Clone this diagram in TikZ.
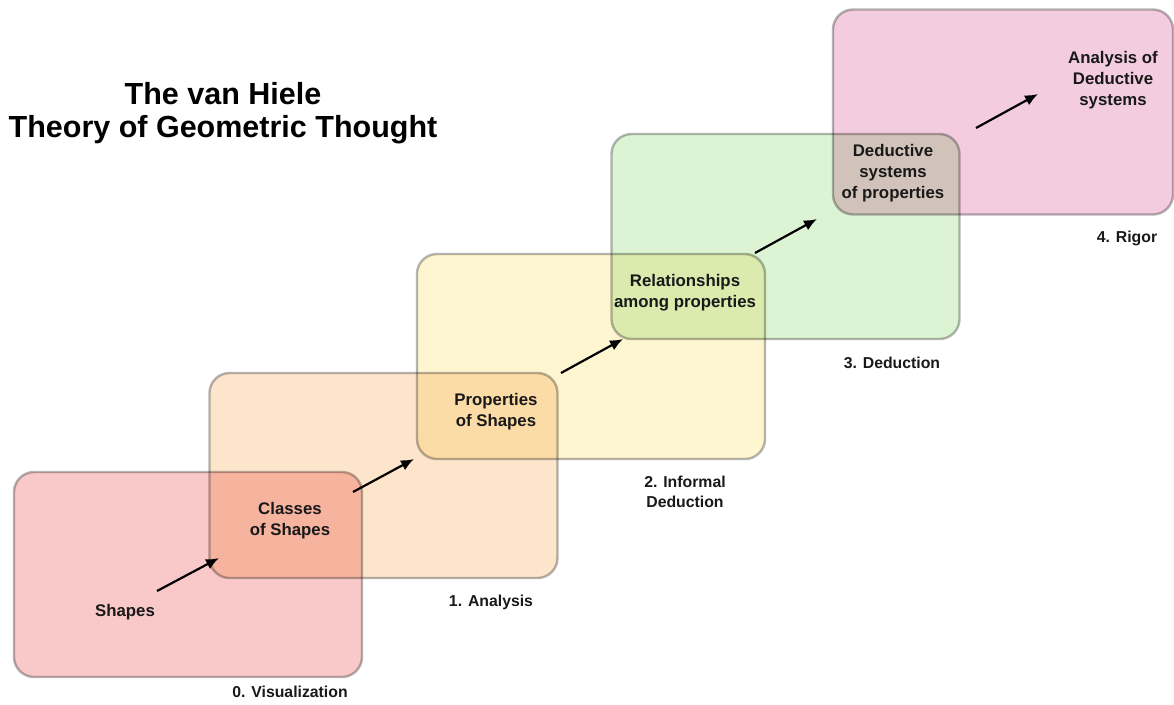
\documentclass[tikz,border=0pt]{standalone}
\usepackage{fontspec}
\setmainfont{Liberation Sans}
\usetikzlibrary{arrows.meta}
\definecolor{czero}{HTML}{F8C9C8}
\definecolor{cone}{HTML}{FDE5CB}
\definecolor{ctwo}{HTML}{FEF5D1}
\definecolor{cthree}{HTML}{DCF4D4}
\definecolor{cfour}{HTML}{F3CCE0}
\definecolor{cborder}{HTML}{B6B6B6}
\tikzset{
  levelbox/.style={draw=cborder, line width=2.4pt, rounded corners=20pt, blend mode=multiply,
    minimum width=348pt, minimum height=205pt, inner sep=0pt},
  inner/.style={font=\bfseries\fontsize{16.8}{21}\selectfont, align=center, text=black!90},
  lvl/.style={font=\bfseries\fontsize{15.8}{20}\selectfont, align=center, text=black!90},
  step arrow/.style={line width=2.2pt, -{Latex[length=13pt,width=11pt]}},
}
\begin{document}
\begin{tikzpicture}[x=1pt,y=-1pt]
\useasboundingbox[fill=white] (0,0) rectangle (1174,704);
% boxes
\node[levelbox, fill=czero] (b0) at (188,574.5) {};
\node[levelbox, fill=cone] (b1) at (383.5,475.5) {};
\node[levelbox, fill=ctwo] (b2) at (591,356.5) {};
\node[levelbox, fill=cthree] (b3) at (785.5,236.5) {};
\node[levelbox, fill=cfour, minimum width=340pt] (b4) at (1003,112) {};
% title
\node[font=\bfseries\fontsize{30.5}{33}\selectfont, align=center] (title) at (223,113) {The van Hiele\\Theory of Geometric Thought};
% inner texts
\node[inner] (t0) at (125,612) {Shapes};
\node[inner] (t1) at (290,521) {Classes\\of Shapes};
\node[inner] (t2) at (496,412) {Properties\\of Shapes};
\node[inner] (t3) at (685,293) {Relationships\\among properties};
\node[inner] (t4) at (893,173) {Deductive\\systems\\of properties};
\node[inner] (t5) at (1113,80) {Analysis of\\Deductive\\systems};
% level labels
\node[lvl] (l0) at (290,692) {0. Visualization};
\node[lvl] (l1) at (491,602) {1. Analysis};
\node[lvl] (l2) at (685,492) {2. Informal\\Deduction};
\node[lvl] (l3) at (892,363) {3. Deduction};
\node[lvl] (l4) at (1127,238) {4. Rigor};
% arrow end points
\coordinate (a0s) at (157,591); \coordinate (a0e) at (219,558);
\coordinate (a1s) at (353,492); \coordinate (a1e) at (414,459);
\coordinate (a2s) at (561,373); \coordinate (a2e) at (623,339);
\coordinate (a3s) at (755,253); \coordinate (a3e) at (817,219);
\coordinate (a4s) at (976,128); \coordinate (a4e) at (1038,94);
\draw[step arrow] (a0s) -- (a0e);
\draw[step arrow] (a1s) -- (a1e);
\draw[step arrow] (a2s) -- (a2e);
\draw[step arrow] (a3s) -- (a3e);
\draw[step arrow] (a4s) -- (a4e);
\end{tikzpicture}
\end{document}
